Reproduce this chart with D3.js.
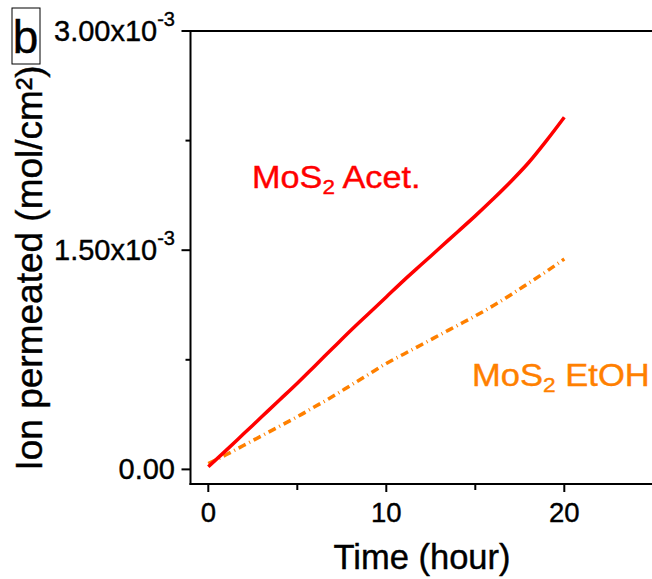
<!DOCTYPE html>
<html>
<head>
<meta charset="utf-8">
<script src="https://cdn.jsdelivr.net/npm/d3@7"></script>
<style>
  html, body { margin: 0; padding: 0; background: #fff; }
  svg { display: block; }
  text { font-family: "Liberation Sans", Arial, sans-serif; }
</style>
</head>
<body>
<svg id="chart" width="652" height="579"></svg>
<script>
// ---- data ----
const hours = [0, 1, 2, 3, 4, 5, 6, 7, 8, 9, 10, 11, 12, 13, 14, 15, 16, 17, 18, 19, 20];
const acetValues = [0.018, 0.13, 0.245, 0.36, 0.475, 0.59, 0.71, 0.83, 0.95, 1.065, 1.18,
                    1.295, 1.405, 1.515, 1.625, 1.735, 1.85, 1.97, 2.10, 2.25, 2.41]; // x1e-3
const etohValues = [0.04, 0.10, 0.165, 0.23, 0.295, 0.36, 0.43, 0.50, 0.575, 0.65, 0.725,
                    0.79, 0.855, 0.92, 0.985, 1.05, 1.12, 1.195, 1.275, 1.355, 1.44]; // x1e-3
const xMajorTicks = [0, 10, 20];
const xMinorTicks = [5, 15, 25];
const yMajorTicks = [0, 1.5, 3.0];
const yMajorLabels = [["0.00", ""], ["1.50x10", "-3"], ["3.00x10", "-3"]];
const yMinorTicks = [0.75, 2.25];
const seriesNames = ["MoS", "2", " Acet.", "MoS", "2", " EtOH"];
const xTitle = "Time (hour)";
const yTitle = "Ion permeated (mol/cm²)";

const svg = d3.select("#chart");
const x = d3.scaleLinear().domain([-1, 25]).range([190.5, 653.3]);
const y = d3.scaleLinear().domain([-0.1, 3.0]).range([484, 31]);

const red = "#ff0000", orange = "#ff8000";

// axes lines
const ax = svg.append("g").attr("stroke", "#000").attr("stroke-width", 2).attr("fill", "none");
ax.append("line").attr("x1", x(-1)).attr("x2", x(-1)).attr("y1", y(3.0) - 1).attr("y2", y(-0.1) + 1);
ax.append("line").attr("x1", x(-1) - 1).attr("x2", 652).attr("y1", y(-0.1)).attr("y2", y(-0.1));
ax.append("line").attr("x1", x(-1) - 1).attr("x2", 652).attr("y1", y(3.0)).attr("y2", y(3.0));

// ticks
yMajorTicks.forEach(v => ax.append("line").attr("x1", x(-1) - 9).attr("x2", x(-1)).attr("y1", y(v)).attr("y2", y(v)));
yMinorTicks.forEach(v => ax.append("line").attr("x1", x(-1) - 5).attr("x2", x(-1)).attr("y1", y(v)).attr("y2", y(v)));
xMajorTicks.forEach(v => ax.append("line").attr("x1", x(v)).attr("x2", x(v)).attr("y1", y(-0.1)).attr("y2", y(-0.1) + 8));
xMinorTicks.forEach(v => ax.append("line").attr("x1", x(v)).attr("x2", x(v)).attr("y1", y(-0.1)).attr("y2", y(-0.1) + 6));

const txtStroke = (sel, c) => sel.attr("stroke", c).attr("stroke-width", 0.4);

// tick labels
xMajorTicks.forEach(v => {
  txtStroke(svg.append("text").attr("x", x(v)).attr("y", 522)
    .attr("text-anchor", "middle").attr("font-size", 27.5).text(v), "#000");
});
yMajorTicks.forEach((v, i) => {
  const right = 175;
  let supW = 0;
  if (yMajorLabels[i][1]) {
    const s = svg.append("text").attr("x", right).attr("y", y(v) + 10 - 15)
      .attr("text-anchor", "end").attr("font-size", 20).text(yMajorLabels[i][1]);
    txtStroke(s, "#000");
    supW = s.node().getComputedTextLength();
  }
  txtStroke(svg.append("text").attr("x", right - supW).attr("y", y(v) + 10)
    .attr("text-anchor", "end").attr("font-size", 29).text(yMajorLabels[i][0]), "#000");
});

// axis titles
txtStroke(svg.append("text").attr("x", 422).attr("y", 569)
  .attr("text-anchor", "middle").attr("font-size", 34.5).text(xTitle), "#000");
txtStroke(svg.append("g").attr("transform", `translate(42,268) rotate(-90)`)
  .append("text").attr("text-anchor", "middle").attr("font-size", 37).text(yTitle), "#000");

// panel label
svg.append("rect").attr("x", 12).attr("y", 8).attr("width", 28).attr("height", 56)
  .attr("fill", "none").attr("stroke", "#000").attr("stroke-width", 1);
txtStroke(svg.append("text").attr("x", 25.5).attr("y", 53).attr("text-anchor", "middle")
  .attr("font-size", 46).text("b"), "#000");

// lines
const line = d3.line().x(d => x(d[0])).y(d => y(d[1])).curve(d3.curveMonotoneX);
svg.append("path").datum(hours.map((h, i) => [h, etohValues[i]]))
  .attr("d", line).attr("fill", "none").attr("stroke", orange).attr("stroke-width", 3.5)
  .attr("stroke-dasharray", "8,4,1,4");
svg.append("path").datum(hours.map((h, i) => [h, acetValues[i]]))
  .attr("d", line).attr("fill", "none").attr("stroke", red).attr("stroke-width", 3.5);

// annotations
function label(px, py, color, parts, sx) {
  const t = svg.append("g").attr("transform", `translate(${px},${py}) scale(${sx},1)`)
    .append("text").attr("font-size", 32).attr("fill", color);
  txtStroke(t, color);
  t.append("tspan").text(parts[0]);
  t.append("tspan").attr("font-size", 21).attr("dy", 6).text(parts[1]);
  t.append("tspan").attr("dy", -6).text(parts[2]);
}
label(252, 187.5, red, seriesNames.slice(0, 3), 1.07);
label(472, 386, orange, seriesNames.slice(3, 6), 1.08);
</script>
</body>
</html>
